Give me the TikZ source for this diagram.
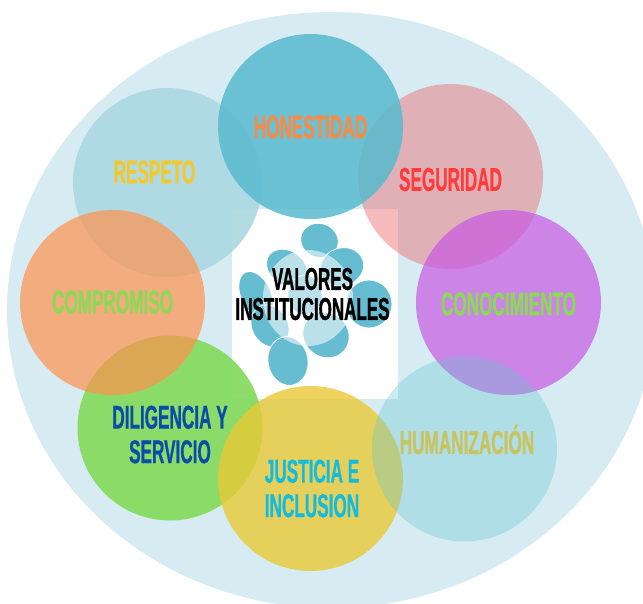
\documentclass[tikz,border=0pt]{standalone}
\usepackage{fontspec}
\setmainfont[FakeStretch=0.52,FakeBold=0.6,BoldFont={Liberation Sans Bold},BoldFeatures={FakeStretch=0.52,FakeBold=0.6}]{Liberation Sans Bold}
\newfontfamily\centerfont[FakeStretch=0.54,FakeBold=1.0]{Liberation Sans Bold}
\definecolor{outerc}{HTML}{D6ECF2}
\definecolor{honc}{HTML}{59BACF}
\definecolor{segc}{HTML}{EC6B6D}
\definecolor{resc}{HTML}{AFDAE3}
\definecolor{comc}{HTML}{FF924D}
\definecolor{conc}{HTML}{C859E3}
\definecolor{dilc}{HTML}{82DA5A}
\definecolor{jusc}{HTML}{EAC937}
\definecolor{humc}{HTML}{67C5D1}
\definecolor{petc}{HTML}{66BDD2}
\definecolor{tres}{RGB}{239,201,47}
\definecolor{thon}{RGB}{245,140,75}
\definecolor{tseg}{RGB}{255,59,59}
\definecolor{tgre}{RGB}{140,217,87}
\definecolor{tdil}{RGB}{10,77,168}
\definecolor{tjus}{RGB}{20,187,221}
\definecolor{thum}{RGB}{201,195,95}
\usetikzlibrary{shapes.geometric}
\tikzset{
  x=1pt,y=-1pt,
  disc/.style={circle,inner sep=0pt,minimum size=185pt,draw=none,fill=#1},
  lab/.style={inner sep=0pt,align=center,text=#1,font=\fontsize{33}{34.5}\selectfont},
  petal/.style={ellipse,inner sep=0pt,draw=white,line width=0.8pt,fill=petc},
}
\begin{document}
\begin{tikzpicture}
\useasboundingbox (0,0) rectangle (643,603);
\clip (0,0) rectangle (643,603);
\fill[white] (0,0) rectangle (643,603);
\node[ellipse,inner sep=0pt,minimum width=648pt,minimum height=596pt,fill=outerc] (outer) at (331,310) {};
\node[inner sep=0pt,minimum width=166pt,minimum height=190pt,fill=white] (panel) at (315,304) {};
% flower
\node[petal,minimum width=38pt,minimum height=34pt,rotate=-20] (p1) at (319.5,240.5) {};
\node[petal,minimum width=44pt,minimum height=34pt,rotate=-35] (p2) at (287,268) {};
\node[petal,minimum width=44pt,minimum height=38pt,rotate=20] (p3) at (342,267) {};
\node[petal,minimum width=50pt,minimum height=30pt,rotate=-65] (p4) at (256,295) {};
\node[petal,minimum width=46pt,minimum height=48pt] (p5) at (369,304) {};
\node[petal,minimum width=44pt,minimum height=36pt,rotate=-60] (p6) at (270,326) {};
\node[petal,minimum width=48pt,minimum height=44pt,rotate=-40] (p7) at (326,335) {};
\node[petal,minimum width=49pt,minimum height=40pt,rotate=-80] (p8) at (288,361) {};
\node[petal,minimum width=40pt,minimum height=34pt,rotate=90] (p9) at (305,295) {};
\node[ellipse,inner sep=0pt,minimum width=90pt,minimum height=96pt,fill=white,fill opacity=0.55] (veil) at (308,298) {};
% discs
\node[disc=resc,minimum size=189pt,fill opacity=0.95] (respeto) at (167.5,182.5) {};
\node[disc=segc,fill opacity=0.45] (seguridad) at (450.5,176.5) {};
\node[disc=honc,fill opacity=0.85] (honestidad) at (310.5,126.5) {};
\node[disc=dilc,fill opacity=0.9] (diligencia) at (170,428) {};
\node[disc=comc,fill opacity=0.7] (compromiso) at (112.5,302.5) {};
\node[disc=conc,fill opacity=0.7] (conocimiento) at (508.5,302.5) {};
\node[disc=jusc,fill opacity=0.8] (justicia) at (310.5,478.5) {};
\node[disc=humc,fill opacity=0.34] (humanizacion) at (464.5,449) {};
% labels
\node[lab=tres] (lres) at (154.5,172) {RESPETO};
\node[lab=thon] (lhon) at (310.5,127) {HONESTIDAD};
\node[lab=tseg] (lseg) at (450.5,179.5) {SEGURIDAD};
\node[lab=tgre] (lcom) at (112.5,302) {COMPROMISO};
\node[lab=tgre] (lcon) at (508.5,304) {CONOCIMIENTO};
\node[lab=tdil] (ldil) at (170,434.5) {DILIGENCIA Y\\SERVICIO};
\node[lab=tjus] (ljus) at (312,488.5) {JUSTICIA E\\INCLUSION};
\node[lab=thum] (lhum) at (467,439.5) {HUMANIZACIÓN};
\node[lab=black,font=\centerfont\fontsize{31.5}{30}\selectfont] (lval) at (312.5,294) {VALORES\\INSTITUCIONALES};
\end{tikzpicture}
\end{document}
